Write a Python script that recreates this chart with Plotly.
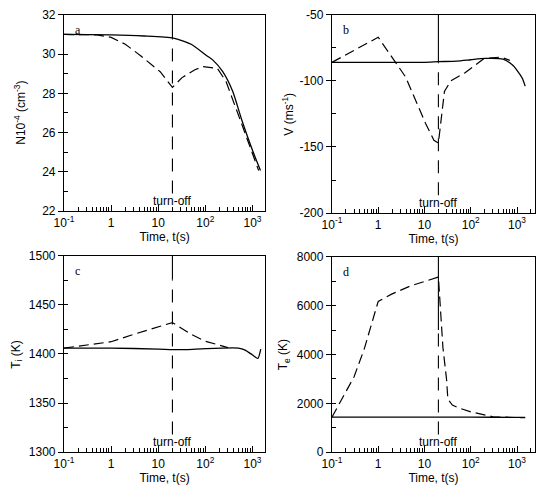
import math
import plotly.graph_objects as go

# ---------------- data ----------------
turnoff_t = 20

t_a_solid = [0.1, 1, 5, 21, 50, 105, 145, 234, 380, 600, 1000, 1480]
n_solid = [31.0, 30.98, 30.92, 30.81, 30.5, 29.93, 29.69, 29.1, 28.1, 26.6, 25.1, 24.07]
t_a_dash = [0.1, 0.5, 1, 2, 4.3, 11, 20, 32, 60, 90, 180, 275, 520, 1000, 1350]
n_dash = [31.0, 30.98, 30.85, 30.5, 29.9, 29.1, 28.3, 28.8, 29.2, 29.36, 29.27, 28.6, 26.8, 25.0, 24.07]

t_b_solid = [0.1, 1, 10, 20, 50, 100, 200, 500, 800, 1000, 1300, 1500]
v_solid = [-86, -86, -86, -85.5, -85, -84, -83, -83.5, -88, -92, -98, -104]
t_b_dash = [0.1, 1, 3.9, 10.5, 16, 20, 27, 37, 74, 195, 450, 700]
v_dash = [-86, -67, -97, -132, -145, -147, -108, -100, -94, -83, -82, -84.5]

t_c_solid = [0.1, 1, 10, 20, 40, 100, 500, 700, 1000, 1300, 1500]
ti_solid = [1406, 1406, 1405, 1404.5, 1404.5, 1405.5, 1406, 1404, 1399, 1395.5, 1405]
t_c_dash = [0.1, 1, 3, 20, 50, 100, 300]
ti_dash = [1406, 1412.5, 1420, 1432, 1420, 1413, 1406.5]

t_d_solid = [0.1, 1, 10, 100, 1000, 1500]
te_solid = [1430, 1430, 1430, 1430, 1425, 1425]
t_d_dash = [0.1, 0.3, 0.5, 1, 2, 5, 20, 22, 25, 30, 32, 40, 60, 100, 300, 1000, 1500]
te_dash = [1430, 3080, 4230, 6175, 6480, 6810, 7170, 6000, 4300, 2980, 2180, 1925, 1785, 1650, 1450, 1415, 1415]

x_major = [0.1, 1, 10, 100, 1000]
x_major_text = ["10<sup>-1</sup>", "1", "10", "10<sup>2</sup>", "10<sup>3</sup>"]
x_minor = [m * d for d in [0.1, 1, 10, 100, 1000] for m in [2, 3, 4, 5, 6, 7, 8, 9]]

ya_ticks = [22, 24, 26, 28, 30, 32]
yb_ticks = [-200, -150, -100, -50]
yc_ticks = [1300, 1350, 1400, 1450, 1500]
yd_ticks = [0, 2000, 4000, 6000, 8000]

panels = [
    dict(lab="a", ts=t_a_solid, ys=n_solid, td=t_a_dash, yd=n_dash, yt=ya_ticks,
         yr=[22, 32], dt=2, title="N10<sup>-4</sup> (cm<sup>-3</sup>)", top_solid=30.8,
         dx=[0.1019, 0.4815], dy=[0.5783, 0.9839], xr=[-1, 3.27], tx=10),
    dict(lab="b", ts=t_b_solid, ys=v_solid, td=t_b_dash, yd=v_dash, yt=yb_ticks,
         yr=[-200, -50], dt=50, title="V (ms<sup>-1</sup>)", top_solid=-86,
         dx=[0.6074, 0.9907], dy=[0.5743, 0.9839], xr=[-1, 3.39], tx=283),
    dict(lab="c", ts=t_c_solid, ys=ti_solid, td=t_c_dash, yd=ti_dash, yt=yc_ticks,
         yr=[1300, 1500], dt=50, title="T<sub>i</sub> (K)", top_solid=1476,
         dx=[0.1019, 0.4815], dy=[0.0803, 0.4859], xr=[-1, 3.27], tx=7),
    dict(lab="d", ts=t_d_solid, ys=te_solid, td=t_d_dash, yd=te_dash, yt=yd_ticks,
         yr=[0, 8000], dt=2000, title="T<sub>e</sub> (K)", top_solid=5000,
         dx=[0.6074, 0.9907], dy=[0.0803, 0.4839], xr=[-1, 3.39], tx=280),
]

fig = go.Figure()
font = dict(family="Liberation Sans, Arial, sans-serif", size=12, color="black")

for i, p in enumerate(panels):
    n = "" if i == 0 else str(i + 1)
    xa, ya = "x" + n, "y" + n
    fig.add_trace(go.Scatter(x=p["ts"], y=p["ys"], mode="lines", xaxis=xa, yaxis=ya,
                             line=dict(color="black", width=1.3, shape="spline", smoothing=0.6),
                             showlegend=False))
    fig.add_trace(go.Scatter(x=p["td"], y=p["yd"], mode="lines", xaxis=xa, yaxis=ya,
                             line=dict(color="black", width=1.2, dash="10px,5px"), showlegend=False))
    span = p["yr"][1] - p["yr"][0]
    fig.add_trace(go.Scatter(x=[turnoff_t, turnoff_t], y=[p["yr"][0] + 0.09 * span, p["top_solid"]],
                             mode="lines", xaxis=xa, yaxis=ya,
                             line=dict(color="black", width=1.1, dash="13px,9px"), showlegend=False))
    fig.add_trace(go.Scatter(x=[turnoff_t, turnoff_t], y=[p["top_solid"], p["yr"][1]],
                             mode="lines", xaxis=xa, yaxis=ya,
                             line=dict(color="black", width=1.1), showlegend=False))
    fig.add_annotation(x=math.log10(turnoff_t), y=0.005, xref=xa, yref=ya + " domain", text="turn-off",
                       showarrow=False, yanchor="bottom", xanchor="center", font=font)
    fig.add_annotation(x=0.045, y=0.97, xref=xa + " domain", yref=ya + " domain", text=p["lab"],
                       showarrow=False, yanchor="top", xanchor="left",
                       font=dict(family="Liberation Serif, Times New Roman, serif", size=12, color="black"))
    # y-axis title as rotated annotation at fixed position
    fig.add_annotation(x=p["tx"] / 540, y=(p["dy"][0] + p["dy"][1]) / 2, xref="paper", yref="paper",
                       text=p["title"], textangle=-90, showarrow=False,
                       xanchor="center", yanchor="middle", font=font)

    xkey = "xaxis" + n
    ykey = "yaxis" + n
    fig.layout[xkey] = dict(
        type="log", range=p["xr"], domain=p["dx"], anchor=ya,
        tickmode="array", tickvals=x_major, ticktext=x_major_text,
        ticks="inside", ticklen=6, tickwidth=1, tickcolor="black",
        minor=dict(tickmode="array", tickvals=x_minor, ticks="inside", ticklen=4,
                   tickwidth=1, tickcolor="black", showgrid=False),
        showline=True, linecolor="black", linewidth=1.2, mirror=True,
        showgrid=False, zeroline=False, tickfont=font,
        title=dict(text="Time, t(s)", font=font, standoff=1),
    )
    fig.layout[ykey] = dict(
        range=p["yr"], domain=p["dy"], anchor=xa,
        tickmode="array", tickvals=p["yt"], ticktext=[str(v) for v in p["yt"]],
        ticks="outside", ticklen=5, tickwidth=1, tickcolor="black",
        minor=dict(dtick=p["dt"] / 2, tick0=p["yr"][0], ticks="inside", ticklen=4, tickwidth=1,
                   tickcolor="black", showgrid=False),
        showline=True, linecolor="black", linewidth=1.2, mirror=True,
        showgrid=False, zeroline=False, tickfont=font,
    )

fig.update_layout(width=540, height=498, margin=dict(l=0, r=0, t=0, b=0),
                  plot_bgcolor="white", paper_bgcolor="white", font=font)
fig.write_html("out.html")
